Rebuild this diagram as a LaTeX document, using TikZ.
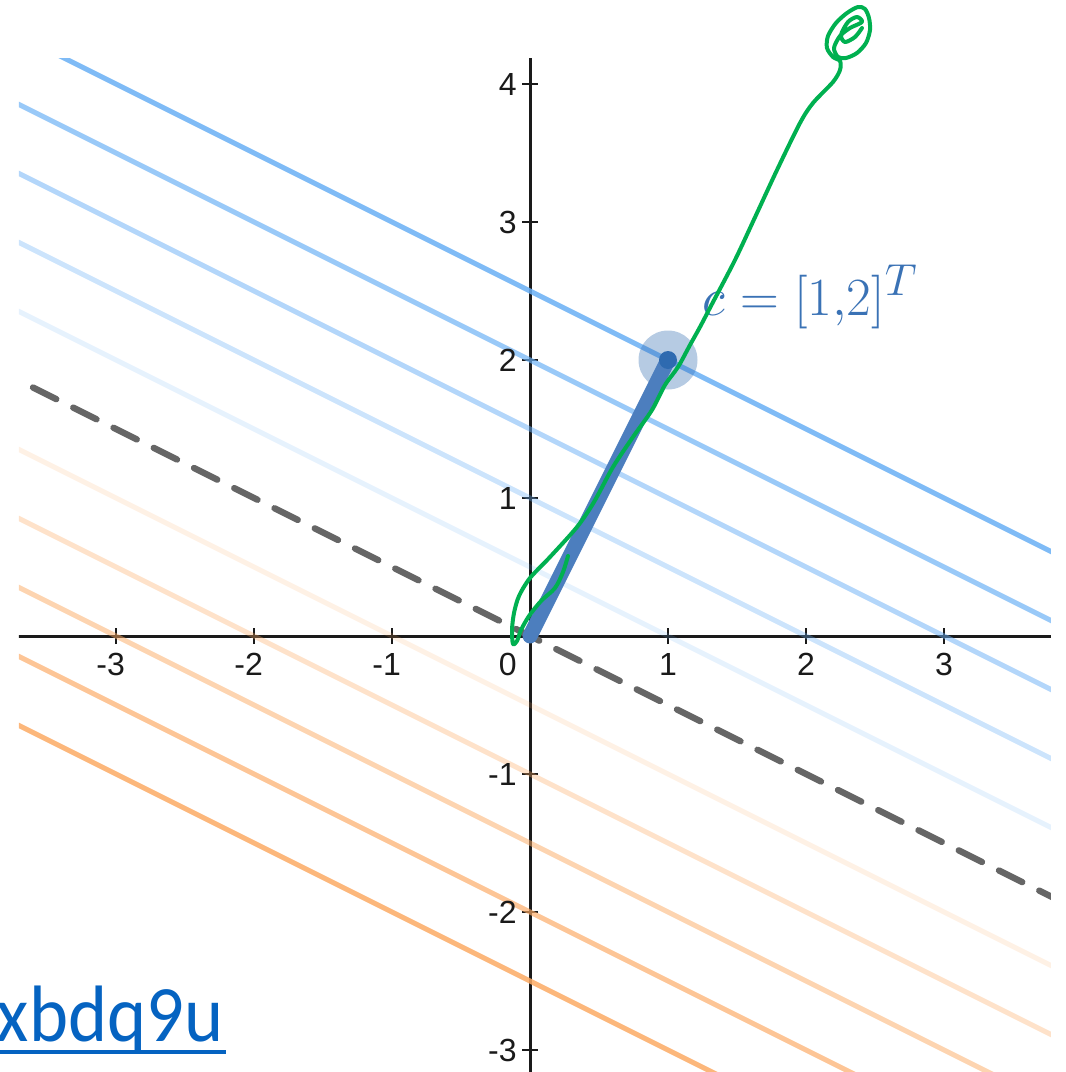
\documentclass[tikz,border=0pt]{standalone}
\usepackage{fontspec}
\usepackage{graphicx}
\newfontfamily\ticksfont{Liberation Sans}
\newfontfamily\linkfont{Carlito}
\definecolor{axisblack}{RGB}{26,26,26}
\definecolor{cblue}{RGB}{105,175,245}
\definecolor{corange}{RGB}{252,170,100}
\definecolor{dashgray}{RGB}{102,102,102}
\definecolor{vecblue}{RGB}{76,126,190}
\definecolor{ptblue}{RGB}{46,106,176}
\definecolor{labelblue}{RGB}{58,114,181}
\definecolor{inkgreen}{RGB}{0,176,80}
\definecolor{linkblue}{RGB}{5,99,193}
\begin{document}
\begin{tikzpicture}[x=69pt,y=69pt,
  contour/.style={line width=2.5pt},
  axisline/.style={line width=1.5pt, draw=axisblack},
  tickmark/.style={line width=1.2pt, draw=axisblack},
  ticklabel/.style={font=\ticksfont\fontsize{16}{19}\selectfont, inner sep=0pt, text=axisblack},
  zeroline/.style={draw=dashgray, line width=3.2pt, line cap=round, dash pattern=on 13pt off 9.5pt},
  vecline/.style={draw=vecblue, line width=7.5pt, line cap=round},
  scribble/.style={draw=inkgreen, line width=2pt, line cap=round, line join=round}
]
\useasboundingbox (-3.8406,-3.1594) rectangle (3.8841,4.6087);
\begin{scope}
  \clip (-3.703,-3.1594) rectangle (3.775,4.188);
  % axes
  \draw[axisline] (-3.8,0) -- (3.9,0);
  \draw[axisline] (0,-3.3) -- (0,4.3);
  \foreach \t in {-3,-2,-1,1,2,3} {
    \draw[tickmark] ([yshift=-4pt]\t,0) -- ([yshift=4pt]\t,0);
  }
  \foreach \t in {-3,-2,-1,1,2,3,4} {
    \draw[tickmark] ([xshift=-4pt]0,\t) -- ([xshift=4pt]0,\t);
  }
  % contour lines x + 2y = k
  \foreach \k/\op in {5/0.85,4/0.68,3/0.51,2/0.34,1/0.17} {
    \draw[contour, draw=cblue, draw opacity=\op] (-4,{(\k+4)/2}) -- (4,{(\k-4)/2});
  }
  \foreach \k/\op in {-1/0.17,-2/0.34,-3/0.51,-4/0.68,-5/0.85} {
    \draw[contour, draw=corange, draw opacity=\op] (-4,{(\k+4)/2}) -- (4,{(\k-4)/2});
  }
  \draw[zeroline] (-3.6014,1.8007) -- (4,-2);
\end{scope}
% tick labels
\foreach \t in {1,2,3} {
  \node[ticklabel, anchor=north] (xl\t) at ([yshift=-8.5pt]\t,0) {\t};
}
\foreach \t in {1,2,3} {
  \node[ticklabel, anchor=north] (xm\t) at ([yshift=-8.5pt]-\t,0) {\llap{-}\t};
}
\node[ticklabel, anchor=north east] (xl0) at ([xshift=-6.5pt,yshift=-8.5pt]0,0) {0};
\foreach \t in {1,2,3,4} {
  \node[ticklabel, anchor=east] (yl\t) at ([xshift=-6.5pt]0,\t) {\t};
}
\foreach \t in {1,2,3} {
  \node[ticklabel, anchor=east] (ym\t) at ([xshift=-6.5pt]0,-\t) {-\t};
}
% vector c
\coordinate (O) at (0,0);
\coordinate (C) at (1,2);
\fill[ptblue, opacity=0.35] (C) circle[radius=14.75pt];
\draw[vecline] (O) -- (C);
\fill[ptblue] (C) circle[radius=4.5pt];
\node[anchor=base west, inner sep=0pt, text=labelblue] (clabel) at (1.25,2.326) {\scalebox{1.08}{\fontsize{24.88}{30}\selectfont$c=[1{,}2]^{T}$}};
% link text
\node[anchor=base east, inner sep=0pt, text=linkblue] (link) at (-2.220,-2.9348) {\scalebox{0.93}[1]{\linkfont\fontsize{40}{48}\selectfont xbdq9u}};
\draw[linkblue, line width=2pt] ([yshift=-5.5pt]link.base west) -- ([yshift=-5.5pt,xshift=1pt]link.base east);
% green hand-drawn stroke (pixel coordinates)
\begin{scope}[x=0.5pt, y=-0.5pt, shift={(-265pt,318pt)}]
\draw[scribble] plot[smooth, tension=0.5] coordinates {
 (568,556) (563,572) (555,588) (541,601) (529,616) (521,630) (517,641) (513,644)
 (512,630) (514,613) (519,596) (530,578) (550,557) (577,527) (594,502) (613,467)
 (633,437) (652,410) (665,385) (678,367) (690,345) (700,327) (712,304) (735,260)
 (757,213) (777,170) (800,123) (813,103) (833,82) (840,70) (840,61) (833,57)
 (827,48) (828,36) (836,23) (847,13) (858,7) (865,9) (869,18) (870,30) (866,43)
 (857,53) (846,58) (838,57) (834,48) (840,36) (850,28) (862,22) (857,17) (848,22)
 (841,35) (845,42) (855,37) (862,28)};
\end{scope}
\end{tikzpicture}
\end{document}
